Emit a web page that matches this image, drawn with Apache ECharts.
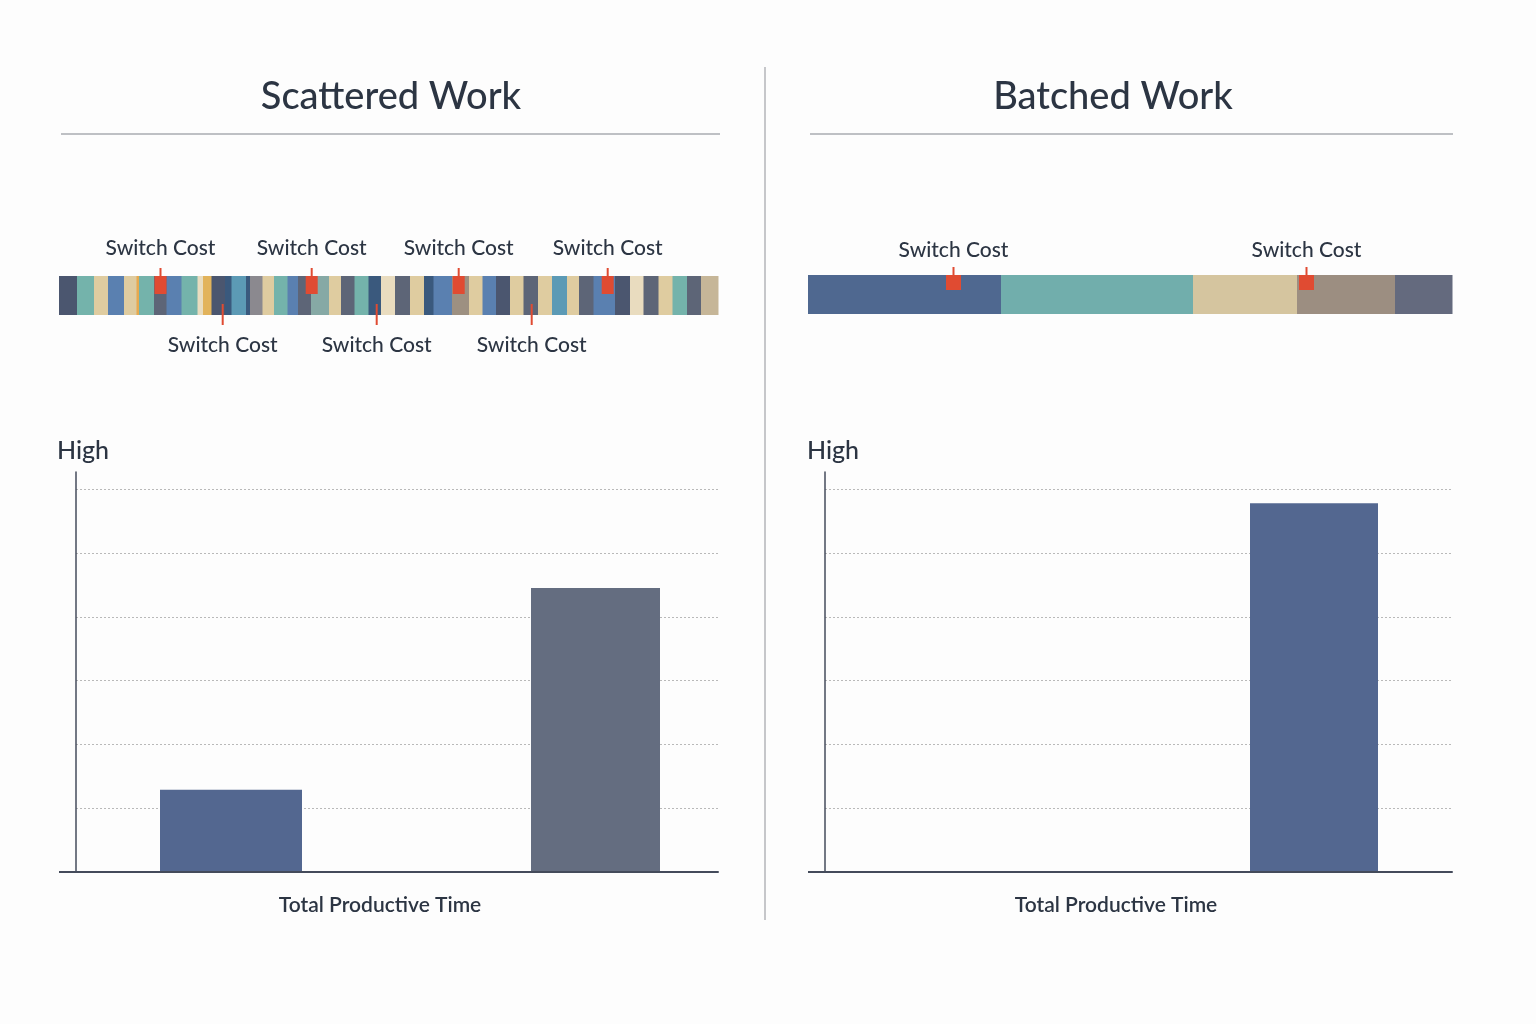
<!DOCTYPE html>
<html>
<head>
<meta charset="utf-8">
<script src="https://cdn.jsdelivr.net/npm/echarts@6/dist/echarts.min.js"></script>
<style>
  html, body { margin: 0; padding: 0; background: #fdfdfd; }
  #chart { width: 1536px; height: 1024px; }
</style>
</head>
<body>
<div id="chart"></div>
<script>
// ---------------- DATA ----------------
const panelTitles = ['Scattered Work', 'Batched Work'];
const axisTopLabel = 'High';
const axisBottomLabel = 'Total Productive Time';
const markerLabel = 'Switch Cost';

// Scattered timeline: task type per block and block durations (time units)
const scatteredTasks = ['S','T','N','B','N','O','T','G','B','T','C','Y','S','D','K','D','M','N','T','B','G','E','N','G','T','D','C','G','N','D','B','P','N','B','S','N','G','N','K','N','G','B','S','C','G','N','T','G','H'];
const scatteredDurations = [18,17,14,16,12.5,2.5,15,12.5,15,16,5.5,8.5,13.5,6.5,14.5,4,12.5,11.5,13.5,10.5,13,18,12,13.5,14,12.5,14,15,14,9.5,18.5,17,13.5,13.5,14,13.5,14.5,14,15,12,14.5,21.5,15,13.5,15,14,14.5,14,17];
// switch-cost events on the scattered timeline (time), label above (1) or below (-1)
const scatteredSwitchTimes = [101.5, 252.7, 399.7, 548.7, 163.7, 317.7, 472.7];
const scatteredSwitchSides = [1, 1, 1, 1, -1, -1, -1];

// Batched timeline
const batchedTasks = ['B2','T2','N2','P2','G2'];
const batchedDurations = [193, 192, 104, 98, 57];
const batchedSwitchTimes = [145.5, 498.5];
const batchedSwitchSides = [1, 1];

// Productive time bars
const barCategories = ['A', 'B'];
const scatteredBars = [1.29, 4.45];
const batchedBars = [null, 5.78];
const valueMax = 6.27;

// ---------------- STYLE ----------------
const taskColors = {
  S: '#4b566f', T: '#74b3ab', N: '#dfcca0', B: '#5a80b0', O: '#e6a94f',
  G: '#5d6577', C: '#e9dcbf', Y: '#e2b35b', D: '#3a597d', K: '#5c9ab5',
  M: '#8b898f', E: '#86a9a5', P: '#9d9081', H: '#c6b698',
  B2: '#4f6890', T2: '#71aeac', N2: '#d5c59f', P2: '#9c8e81', G2: '#646a7e'
};
const textColor = '#2c3543';
const red = '#e04b32';
const FONT = 'Lato, "Noto Sans", sans-serif';

function buildBlocks(tasks, durations) {
  const out = []; let t = 0;
  durations.forEach((d, i) => { out.push([t, t + d, i]); t += d; });
  return out;
}
function sum(a) { return a.reduce((s, v) => s + v, 0); }

function stripSeries(gridIdx, tasks, durations) {
  return {
    type: 'custom', xAxisIndex: gridIdx, yAxisIndex: gridIdx,
    data: buildBlocks(tasks, durations),
    renderItem: function (params, api) {
      const s = api.coord([api.value(0), 1]);
      const e = api.coord([api.value(1), 0]);
      return { type: 'rect', shape: { x: s[0], y: s[1], width: e[0] - s[0] + 0.5, height: e[1] - s[1] },
               style: { fill: taskColors[tasks[api.value(2)]] } };
    }
  };
}
function markerSeries(gridIdx, times, sides, w, h, labelGap) {
  return {
    type: 'custom', xAxisIndex: gridIdx, yAxisIndex: gridIdx, z: 5,
    data: times.map((t, i) => [t, sides[i]]),
    renderItem: function (params, api) {
      const top = api.coord([api.value(0), 1]);
      const bot = api.coord([api.value(0), 0]);
      const x = top[0];
      const font = '500 21px ' + FONT;
      if (api.value(1) > 0) {
        return { type: 'group', children: [
          { type: 'rect', shape: { x: x - w / 2, y: top[1], width: w, height: h }, style: { fill: red } },
          { type: 'line', shape: { x1: x, y1: top[1] - 8, x2: x, y2: top[1] }, style: { stroke: red, lineWidth: 2 } },
          { type: 'text', x: x, y: top[1] - labelGap, style: { text: markerLabel, fill: textColor, font: font, align: 'center', verticalAlign: 'middle' } }
        ]};
      }
      return { type: 'group', children: [
        { type: 'line', shape: { x1: x, y1: bot[1] - 11, x2: x, y2: bot[1] + 10 }, style: { stroke: red, lineWidth: 2 } },
        { type: 'text', x: x, y: bot[1] + 30, style: { text: markerLabel, fill: textColor, font: font, align: 'center', verticalAlign: 'middle' } }
      ]};
    }
  };
}

const axisColor = '#444b5b';
const splitStyle = { show: true, showMinLine: false, showMaxLine: false, lineStyle: { type: [2, 2], color: '#b9b9b9', width: 1 } };

const option = {
  backgroundColor: '#fdfdfd',
  animation: false,
  grid: [
    { left: 76, top: 472, width: 642, height: 400 },     // 0 left visible axes
    { left: 39, top: 472, width: 742, height: 400 },     // 1 left bars
    { left: 59, top: 276, width: 659, height: 39 },      // 2 left strip
    { left: 825, top: 472, width: 627, height: 400 },    // 3 right visible axes
    { left: 757.5, top: 472, width: 742, height: 400 },  // 4 right bars
    { left: 808, top: 275, width: 644, height: 39 }      // 5 right strip
  ],
  xAxis: [
    { gridIndex: 0, type: 'category', data: barCategories, z: 10, axisLine: { lineStyle: { color: axisColor, width: 2 } }, axisTick: { show: false }, axisLabel: { show: false } },
    { gridIndex: 1, type: 'category', data: barCategories, show: false },
    { gridIndex: 2, type: 'value', min: 0, max: sum(scatteredDurations), show: false },
    { gridIndex: 3, type: 'category', data: barCategories, z: 10, axisLine: { lineStyle: { color: axisColor, width: 2 } }, axisTick: { show: false }, axisLabel: { show: false } },
    { gridIndex: 4, type: 'category', data: barCategories, show: false },
    { gridIndex: 5, type: 'value', min: 0, max: sum(batchedDurations), show: false }
  ],
  yAxis: [
    { gridIndex: 0, type: 'value', min: 0, max: valueMax, interval: 1, axisLine: { show: true, lineStyle: { color: axisColor, width: 1.5 } }, axisTick: { show: false }, axisLabel: { show: false }, splitLine: splitStyle },
    { gridIndex: 1, type: 'value', min: 0, max: valueMax, show: false, splitLine: { show: false } },
    { gridIndex: 2, type: 'value', min: 0, max: 1, show: false },
    { gridIndex: 3, type: 'value', min: 0, max: valueMax, interval: 1, axisLine: { show: true, lineStyle: { color: axisColor, width: 1.5 } }, axisTick: { show: false }, axisLabel: { show: false }, splitLine: splitStyle },
    { gridIndex: 4, type: 'value', min: 0, max: valueMax, show: false, splitLine: { show: false } },
    { gridIndex: 5, type: 'value', min: 0, max: 1, show: false }
  ],
  series: [
    { type: 'bar', xAxisIndex: 1, yAxisIndex: 1, barWidth: 142, barGap: '-100%',
      data: [scatteredBars[0], '-'], itemStyle: { color: '#536790' } },
    { type: 'bar', xAxisIndex: 1, yAxisIndex: 1, barWidth: 129, barGap: '-100%',
      data: ['-', scatteredBars[1]], itemStyle: { color: '#646d80' } },
    { type: 'bar', xAxisIndex: 4, yAxisIndex: 4, barWidth: 128,
      data: batchedBars.map(v => v == null ? '-' : v), itemStyle: { color: '#536790' } },
    stripSeries(2, scatteredTasks, scatteredDurations),
    markerSeries(2, scatteredSwitchTimes, scatteredSwitchSides, 12, 18, 28),
    stripSeries(5, batchedTasks, batchedDurations),
    markerSeries(5, batchedSwitchTimes, batchedSwitchSides, 15, 15, 25)
  ],
  graphic: [
    { type: 'text', x: 391, y: 97, style: { text: panelTitles[0], fill: textColor, font: '500 38px ' + FONT, align: 'center', verticalAlign: 'middle' } },
    { type: 'text', x: 1113, y: 97, style: { text: panelTitles[1], fill: textColor, font: '500 38px ' + FONT, align: 'center', verticalAlign: 'middle' } },
    { type: 'line', shape: { x1: 61, y1: 134, x2: 720, y2: 134 }, style: { stroke: '#a9abb1', lineWidth: 1.5 } },
    { type: 'line', shape: { x1: 810, y1: 134, x2: 1453, y2: 134 }, style: { stroke: '#a9abb1', lineWidth: 1.5 } },
    { type: 'line', shape: { x1: 765, y1: 67, x2: 765, y2: 920 }, style: { stroke: '#b3b4b8', lineWidth: 1.5 } },
    { type: 'text', x: 57, y: 451, style: { text: axisTopLabel, fill: textColor, font: '500 25px ' + FONT, align: 'left', verticalAlign: 'middle' } },
    { type: 'text', x: 807, y: 451, style: { text: axisTopLabel, fill: textColor, font: '500 25px ' + FONT, align: 'left', verticalAlign: 'middle' } },
    { type: 'text', x: 380, y: 905, style: { text: axisBottomLabel, fill: textColor, font: '600 21px ' + FONT, align: 'center', verticalAlign: 'middle' } },
    { type: 'text', x: 1116, y: 905, style: { text: axisBottomLabel, fill: textColor, font: '600 21px ' + FONT, align: 'center', verticalAlign: 'middle' } },
    { type: 'line', shape: { x1: 59, y1: 872, x2: 77, y2: 872 }, style: { stroke: axisColor, lineWidth: 2 } },
    { type: 'line', shape: { x1: 808, y1: 872, x2: 826, y2: 872 }, style: { stroke: axisColor, lineWidth: 2 } }
  ]
};

const chart = echarts.init(document.getElementById('chart'), null, { renderer: 'canvas' });
chart.setOption(option);
</script>
</body>
</html>
